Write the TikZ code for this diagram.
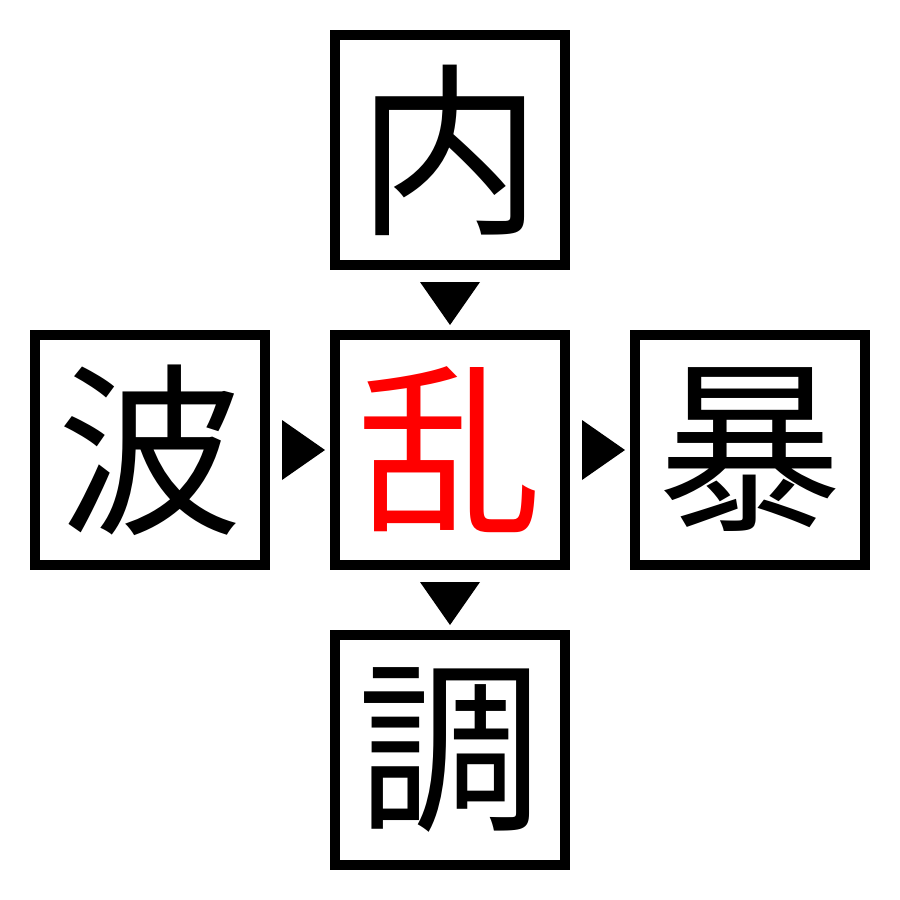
\documentclass[tikz,border=0pt]{standalone}
\usepackage{fontspec}
\newfontfamily\jp{Noto Sans CJK JP}
\usetikzlibrary{calc}
\begin{document}
\begin{tikzpicture}[x=1pt,y=-1pt,
  box/.style={draw=black,line width=10pt,minimum size=230pt,inner sep=0pt,outer sep=5pt,
    font=\jp\fontsize{185}{185}\selectfont},
  tri/.style={fill=black}]
\useasboundingbox[fill=white] (0,0) rectangle (900,900);
\node[box] (top) at (450,150) {内};
\node[box] (c) at (450,450) {\textcolor{red}{乱}};
\node[box] (l) at (150,450) {波};
\node[box] (r) at (750,450) {暴};
\node[box] (b) at (450,750) {調};
\fill[tri] ($(top.south)+(-30,12)$) -- ($(top.south)+(30,12)$) -- ($(c.north)+(0,-5)$) -- cycle;
\fill[tri] ($(c.south)+(-30,12)$) -- ($(c.south)+(30,12)$) -- ($(b.north)+(0,-5)$) -- cycle;
\fill[tri] ($(l.east)+(12,-30)$) -- ($(l.east)+(12,30)$) -- ($(c.west)+(-5,0)$) -- cycle;
\fill[tri] ($(c.east)+(12,-30)$) -- ($(c.east)+(12,30)$) -- ($(r.west)+(-5,0)$) -- cycle;
\end{tikzpicture}
\end{document}
